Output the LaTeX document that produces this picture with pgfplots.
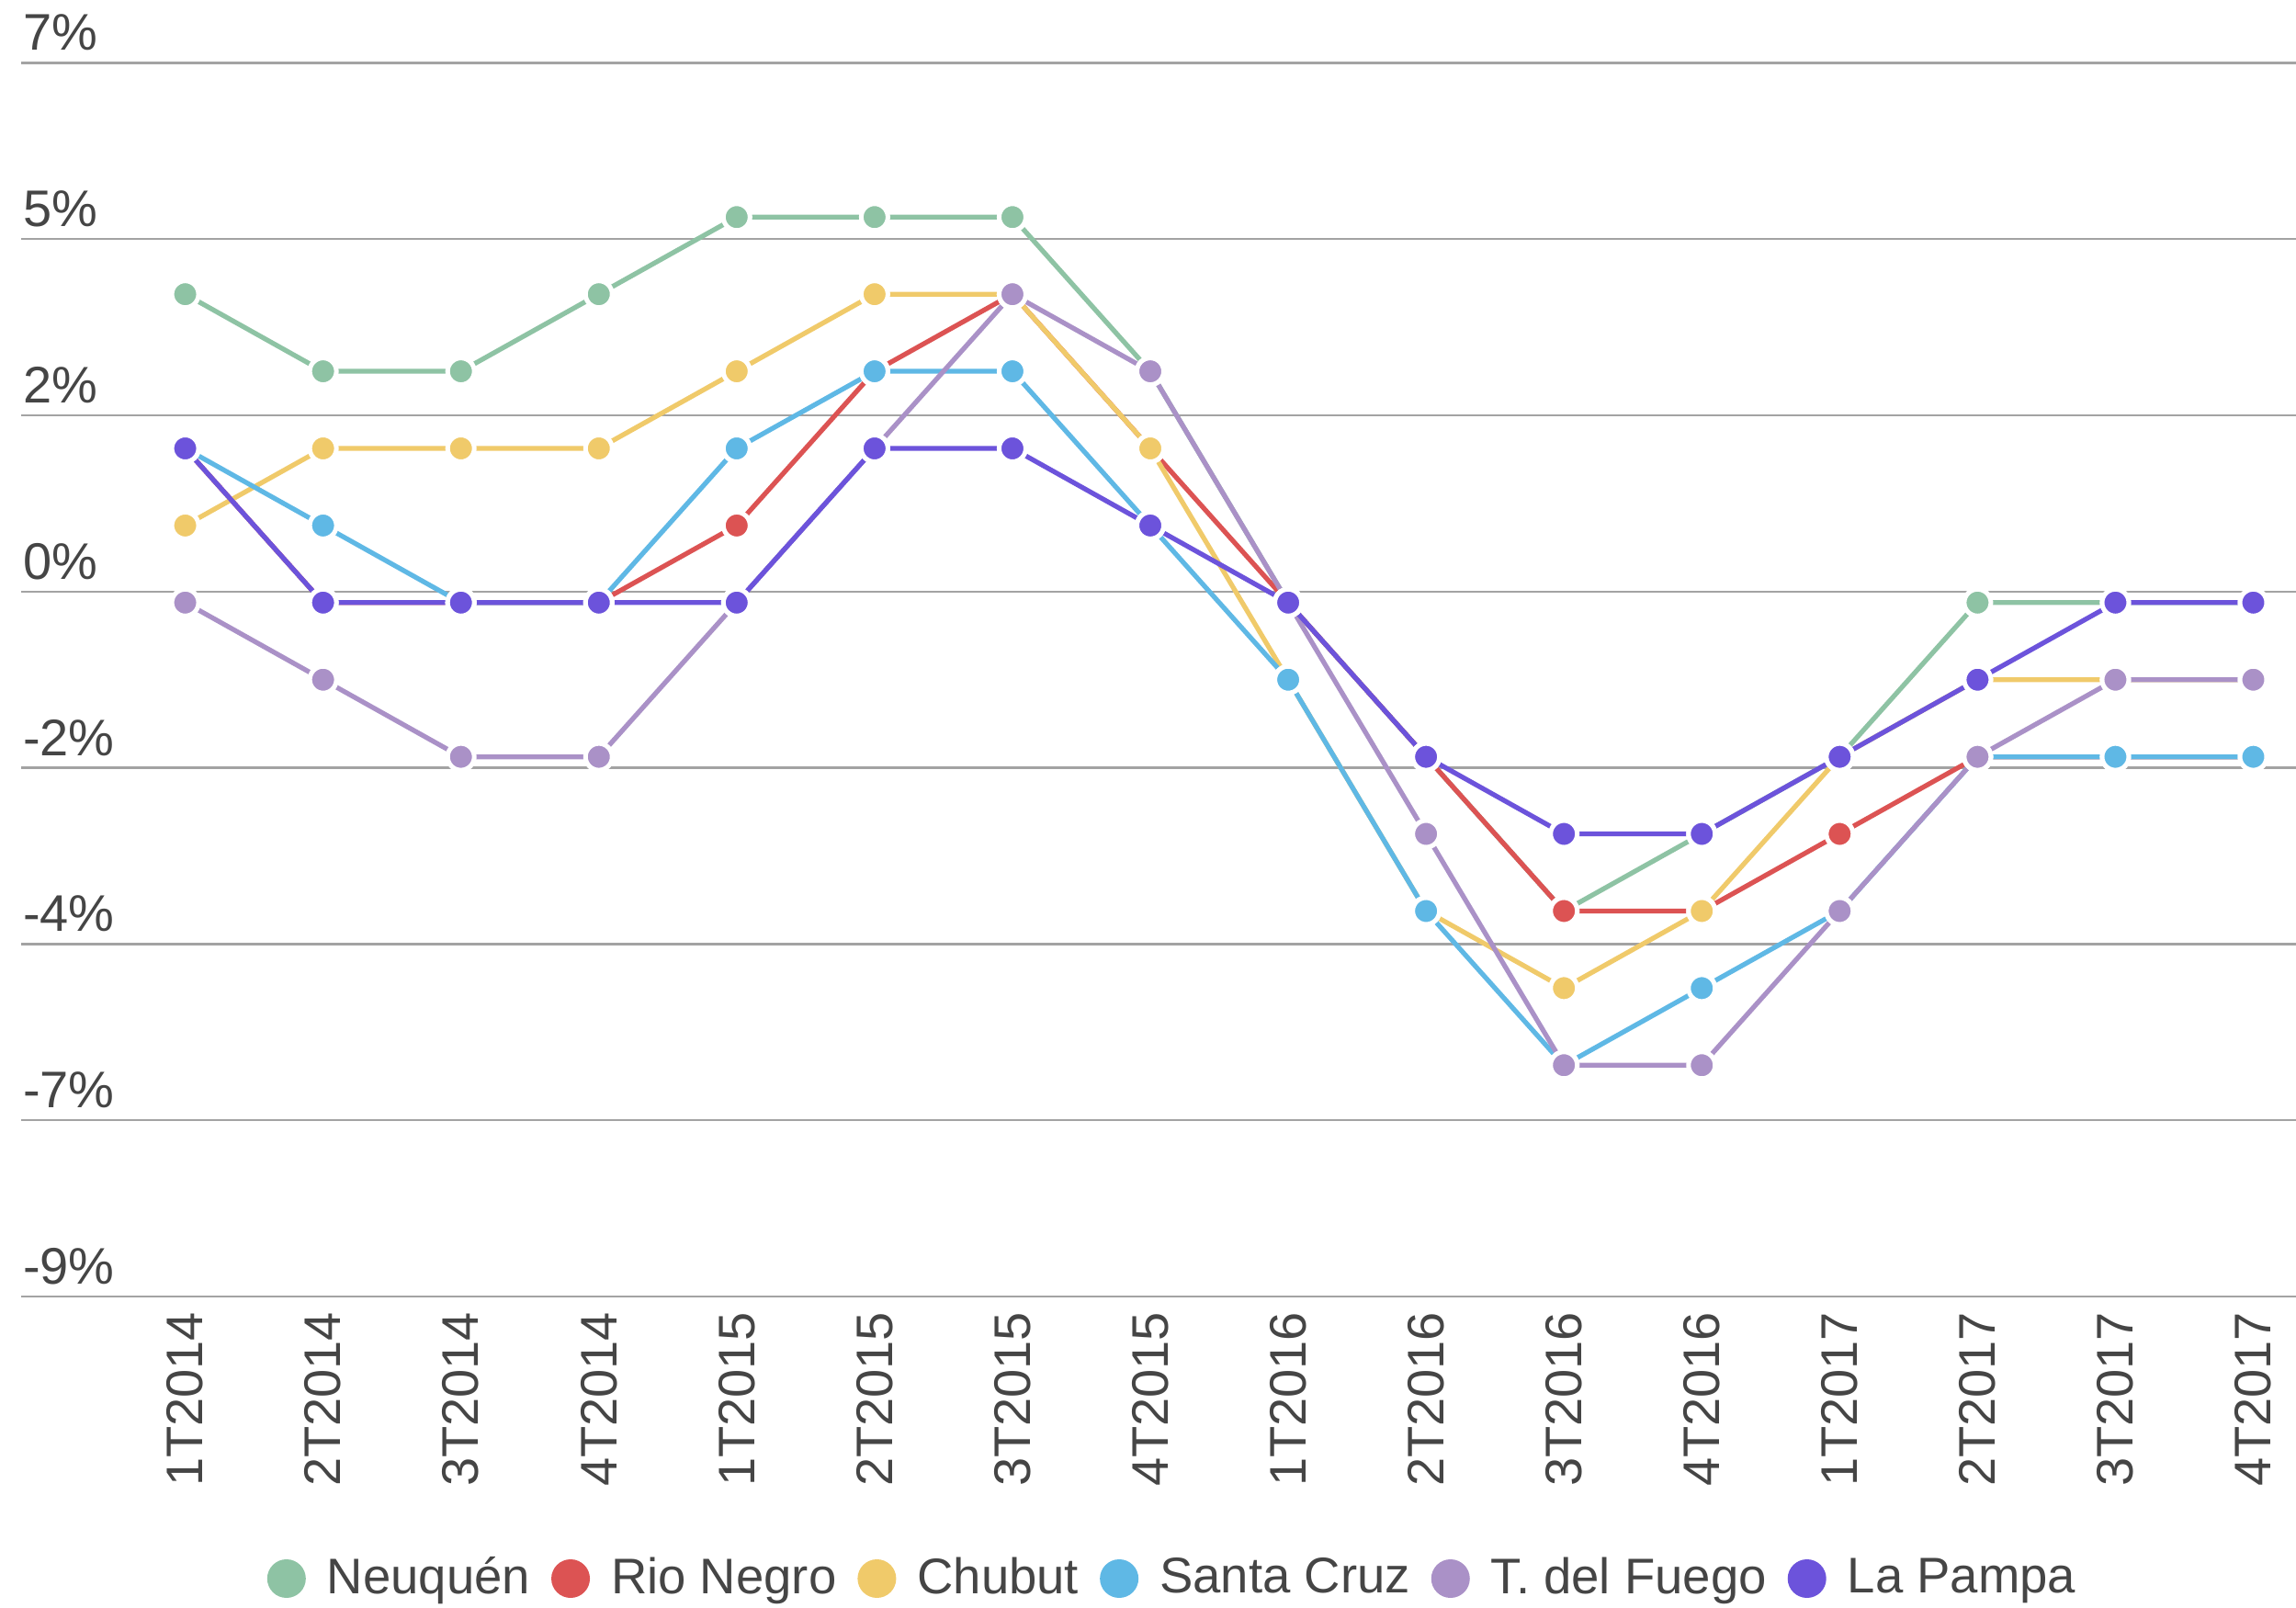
\documentclass[border=0pt]{standalone}
\usepackage{fontspec}
\setmainfont{Liberation Sans}
\usepackage{pgfplots}
\usepackage{pgfplotstable}
\pgfplotsset{compat=1.18}

\definecolor{nqc}{HTML}{8EC3A4}
\definecolor{rnc}{HTML}{DC5353}
\definecolor{chc}{HTML}{F0CA6A}
\definecolor{scc}{HTML}{5FB8E5}
\definecolor{tfc}{HTML}{AA91C7}
\definecolor{lpc}{HTML}{6C53DB}
\definecolor{txt}{HTML}{454545}
\definecolor{gridc}{HTML}{A3A3A3}

% quarter index, then one column per province
\pgfplotstableread{
q  nq rn ch sc tf lp
0   4  2  1  2  0  2
1   3  0  2  1 -1  0
2   3  0  2  0 -2  0
3   4  0  2  0 -2  0
4   5  1  3  2  0  0
5   5  3  4  3  2  2
6   5  4  4  3  4  2
7   3  2  2  1  3  1
8   0  0 -1 -1  0  0
9  -2 -2 -4 -4 -3 -2
10 -4 -4 -5 -6 -6 -3
11 -3 -4 -4 -5 -6 -3
12 -2 -3 -2 -4 -4 -2
13  0 -2 -1 -2 -2 -1
14  0 -2 -1 -2 -1  0
15  0 -2 -1 -2 -1  0
}\datatable

\pgfplotsset{
  serie/.style={color=#1, line width=1.05pt, mark=*, mark size=2.9pt,
    mark options={draw=white, fill=#1, line width=1pt}},
}

\begin{document}
\begin{tikzpicture}
\path[use as bounding box] (-4.6pt,-67.8pt) rectangle (495.2pt,282.2pt);
\begin{axis}[
    at={(0,0)}, anchor=south west,
    scale only axis,
    width=495.2pt, height=268.5pt,
    xmin=-1.19, xmax=15.31,
    ymin=-9, ymax=7,
    axis line style={draw=none},
    major tick style={draw=none},
    ymajorgrids,
    major grid style={gridc, line width=0.45pt},
    ytick={-9,-6.7142857,-4.4285714,-2.1428571,0.1428571,2.4285714,4.7142857,7},
    yticklabels={-9\%,-7\%,-4\%,-2\%,0\%,2\%,5\%,7\%},
    yticklabel style={anchor=base west, inner sep=0pt, xshift=0.2pt, yshift=2.7pt},
    xtick={0,...,15},
    xticklabels={1T2014,2T2014,3T2014,4T2014,1T2015,2T2015,3T2015,4T2015,
                 1T2016,2T2016,3T2016,4T2016,1T2017,2T2017,3T2017,4T2017},
    xticklabel style={yshift=-3.2pt, rotate=90, anchor=east, inner sep=0pt},
    tick label style={font=\fontsize{11.2}{13}\selectfont, text=txt},
    clip=false,
    legend columns=6,
    legend style={draw=none, fill=none, at={(0.5,0)}, anchor=center,
      xshift=3.8pt, yshift=-61.4pt,
      font=\fontsize{10.9}{14}\selectfont, text=txt,
      /tikz/every even column/.append style={column sep=2.6pt}},
    legend image code/.code={%
      \fill[#1, draw=none] (4.2pt,0pt) circle (4.2pt);
      \path[draw=none, fill=none] (0pt,0pt) rectangle (11pt,0.1pt);},
  ]
  \addplot[serie=nqc] table[x=q, y=nq] {\datatable};
  \addlegendentry{Neuquén}
  \addplot[serie=rnc] table[x=q, y=rn] {\datatable};
  \addlegendentry{Rio Negro}
  \addplot[serie=chc] table[x=q, y=ch] {\datatable};
  \addlegendentry{Chubut}
  \addplot[serie=scc] table[x=q, y=sc] {\datatable};
  \addlegendentry{Santa Cruz}
  \addplot[serie=tfc] table[x=q, y=tf] {\datatable};
  \addlegendentry{T. del Fuego}
  \addplot[serie=lpc] table[x=q, y=lp] {\datatable};
  \addlegendentry{La Pampa}
\end{axis}
\end{tikzpicture}
\end{document}
